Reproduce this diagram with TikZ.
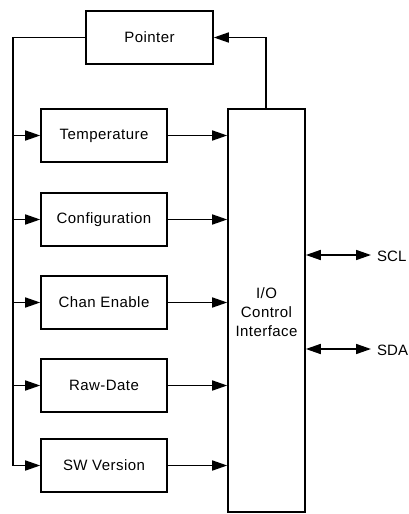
\documentclass[tikz,border=0pt]{standalone}
\usepackage{fontspec}
\setmainfont{Liberation Sans}[LetterSpace=3]
\newfontfamily\plainsans{Liberation Sans}
\usetikzlibrary{arrows.meta}
\begin{document}
\begin{tikzpicture}[x=1pt,y=-1pt,
  every node/.style={font=\fontsize{15}{19}\selectfont},
  blk/.style={draw,line width=1.6pt,minimum width=126pt,minimum height=53pt,inner sep=0pt},
  ln/.style={line width=1.6pt},
  arr/.style={ln,-{Triangle[length=15pt,width=10pt]}},
  darr/.style={ln,{Triangle[length=15pt,width=10pt]}-{Triangle[length=15pt,width=10pt]}},
  sig/.style={anchor=west,inner sep=0pt,font=\plainsans\fontsize{15}{19}\selectfont}]
\useasboundingbox (0,0) rectangle (409,514);
\node[blk,minimum width=127pt] (ptr) at (149.5,37.5) {Pointer};
\node[blk] (temp) at (104,135.5) {Temperature};
\node[blk] (conf) at (104,219.5) {Configuration};
\node[blk] (chan) at (104,302.5) {Chan Enable};
\node[blk] (raw) at (104,385.5) {Raw-Date};
\node[blk] (sw) at (104,465.5) {SW Version};
\node[draw,line width=1.6pt,minimum width=77pt,minimum height=403pt,inner sep=0pt] (io) at (266.5,310.5) {};
\node[align=center] (iot) at (266.5,312) {I/O\\Control\\Interface};
\coordinate (bt) at (13,37.5);
\coordinate (bb) at (13,465.5);
\coordinate (ut) at (266,37.5);
\draw[ln] (ptr.west) -- (bt) -- (bb);
\foreach \n in {temp,conf,chan,raw,sw}{
  \draw[arr] (bt |- \n.west) -- (\n.west);
  \draw[arr] (\n.east) -- (io.west |- \n.east);
}
\draw[arr] (io.north -| ut) -- (ut) -- (ptr.east);
\coordinate (sclp) at (371,255);
\coordinate (sdap) at (371,349);
\draw[darr] (io.east |- sclp) -- (sclp);
\draw[darr] (io.east |- sdap) -- (sdap);
\node[sig] (scl) at (377,256) {SCL};
\node[sig] (sda) at (377,350) {SDA};
\end{tikzpicture}
\end{document}
